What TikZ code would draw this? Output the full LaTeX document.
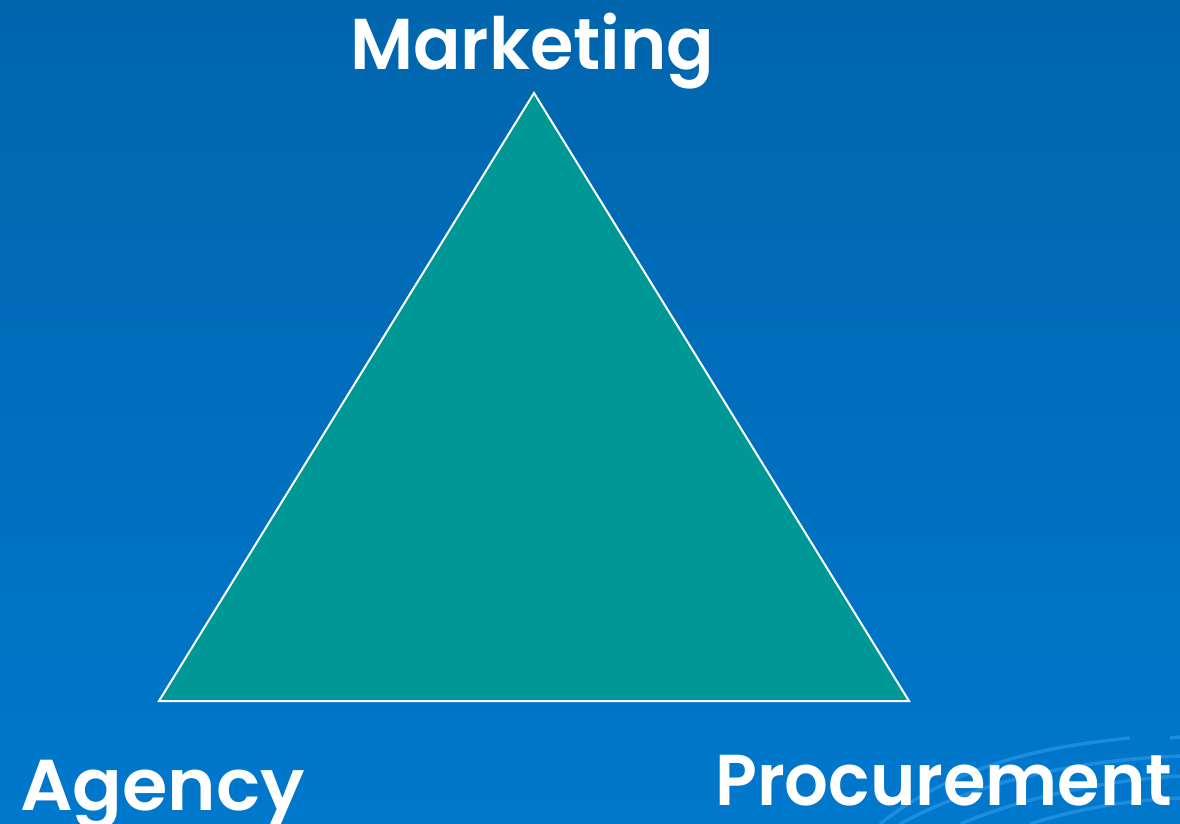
\documentclass[tikz,border=0pt]{standalone}
\usepackage{fontspec}
\usepackage{graphicx}
\setmainfont{Poppins}[BoldFont={* SemiBold}]
\definecolor{bgtop}{RGB}{0,101,173}
\definecolor{bgbot}{RGB}{0,120,204}
\definecolor{teal}{RGB}{0,152,150}
\definecolor{swirl}{RGB}{40,150,232}
\begin{document}
\begin{tikzpicture}[x=1pt,y=-1pt,
  label/.style={text=white,font=\bfseries\fontsize{72}{72}\selectfont,inner sep=0pt,anchor=base west}]
  % backdrop
  \shade[top color=bgtop,bottom color=bgbot] (0,0) rectangle (1180,824);
  \useasboundingbox (0,0) rectangle (1180,824);
  % faint swirl in the lower right corner
  \begin{scope}[swirl,line width=3.5pt,opacity=0.7]
    \clip (0,0) rectangle (1180,824);
    \draw (880,824) .. controls (960,760) and (1060,745) .. (1130,738);
    \draw (900,824) .. controls (980,780) and (1080,760) .. (1180,756);
    \draw (960,824) .. controls (1030,795) and (1110,780) .. (1180,776);
    \draw (1030,824) .. controls (1080,808) and (1130,800) .. (1180,798);
    \draw (1170,738) -- (1180,737);
  \end{scope}
  % triangle corners
  \coordinate (top) at (534,93);
  \coordinate (left) at (159,701);
  \coordinate (right) at (909,701);
  \fill[teal] (top) -- (left) -- (right) -- cycle;
  \draw[white,line width=2pt,line join=miter] (top) -- (left) -- (right) -- cycle;
  % labels
  \node[label] (mkt) at (350,70) {\scalebox{0.975}[1]{Marketing}};
  \node[label] (agy) at (20,810) {\scalebox{1.02}[1]{Agency}};
  \node[label] (prc) at (715,805) {\scalebox{0.955}[1]{Procurement}};
\end{tikzpicture}
\end{document}
